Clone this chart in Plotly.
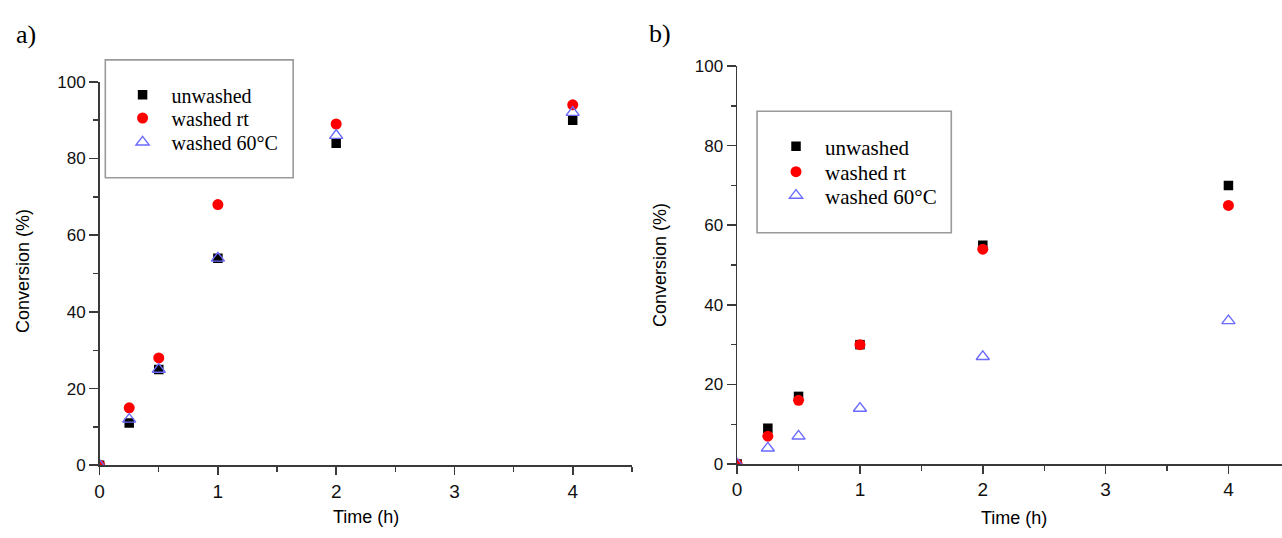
import plotly.graph_objects as go

W, H = 1282, 538

# ---- data ----
time_h = [0, 0.25, 0.5, 1, 2, 4]
series_names = ["unwashed", "washed rt", "washed 60°C"]

a_unwashed = [0, 11, 25, 54, 84, 90]
a_washed_rt = [0, 15, 28, 68, 89, 94]
a_washed_60 = [0, 12, 25, 54, 86, 92]

b_unwashed = [0, 9, 17, 30, 55, 70]
b_washed_rt = [0, 7, 16, 30, 54, 65]
b_washed_60 = [0, 4, 7, 14, 27, 36]

y_ticks = [0, 20, 40, 60, 80, 100]
x_ticks = [0, 1, 2, 3, 4]
panel_labels = ["a)", "b)"]
x_title = "Time (h)"
y_title = "Conversion (%)"

# ---- styles ----
styles = [
    dict(symbol="square", color="black", size=9.5, line=dict(width=0)),
    dict(symbol="circle", color="#ff0000", size=11, line=dict(width=0)),
    dict(symbol="triangle-up-open", color="#6a6aff", size=11.5, line=dict(width=1.4, color="#6a6aff")),
]


def px_x(p):
    return p / W


def px_y(p):
    return 1 - p / H


fig = go.Figure()

panels = [
    dict(data=[a_unwashed, a_washed_rt, a_washed_60], xa="x", ya="y",
         leg_x=109, leg_rows=[89, 113, 138], font_size=20),
    dict(data=[b_unwashed, b_washed_rt, b_washed_60], xa="x2", ya="y2",
         leg_x=765, leg_rows=[142.7, 169, 193.5], font_size=21),
]

legend_layouts = {}
k = 0
for p in panels:
    for name, vals, st, row in zip(series_names, p["data"], styles, p["leg_rows"]):
        k += 1
        key = "legend" if k == 1 else f"legend{k}"
        fig.add_trace(go.Scatter(
            x=time_h, y=vals, mode="markers", name=name,
            marker=st, xaxis=p["xa"], yaxis=p["ya"], legend=key,
            cliponaxis=True, showlegend=True,
        ))
        legend_layouts[key] = dict(
            x=px_x(p["leg_x"]), y=px_y(row), xanchor="left", yanchor="middle",
            bgcolor="rgba(0,0,0,0)", borderwidth=0, itemwidth=48,
            font=dict(family="Liberation Serif", size=p["font_size"], color="black"),
        )

axis_color = "#3a3a3a"
common_x = dict(
    showgrid=False, zeroline=False, showline=True, linecolor=axis_color, linewidth=1.6,
    ticks="outside", ticklen=8, tickwidth=1.6, tickcolor=axis_color,
    tickvals=x_ticks, ticktext=[str(v) for v in x_ticks],
    tickfont=dict(family="Liberation Sans", size=19, color="#111"),
    minor=dict(dtick=0.5, tick0=0, ticks="outside", ticklen=5, tickwidth=1.4, tickcolor=axis_color),
    fixedrange=True,
)
common_y = dict(
    showgrid=False, zeroline=False, showline=True, linecolor=axis_color, linewidth=1.6,
    ticks="outside", ticklen=9, tickwidth=1.6, tickcolor=axis_color,
    tickvals=y_ticks, ticktext=[str(v) for v in y_ticks],
    tickfont=dict(family="Liberation Sans", size=17, color="#111"),
    minor=dict(dtick=10, tick0=0, ticks="outside", ticklen=5, tickwidth=1.4, tickcolor=axis_color),
    range=[0, 100], fixedrange=True,
)

fig.update_layout(
    width=W, height=H,
    margin=dict(l=0, r=0, t=0, b=0),
    paper_bgcolor="white", plot_bgcolor="white",
    xaxis=dict(common_x, domain=[px_x(95), px_x(629.3)], range=[0, 4.5], anchor="y"),
    yaxis=dict(common_y, domain=[px_y(473), px_y(75.5)], anchor="x"),
    xaxis2=dict(common_x, domain=[px_x(735), px_x(1282)], range=[0, 4.436], anchor="y2"),
    yaxis2=dict(common_y, domain=[px_y(471.7), px_y(59.2)], anchor="x2"),
    showlegend=True,
    **legend_layouts,
)

# legend frames
for (x0, y0, x1, y1) in [(100.7, 52.7, 289.3, 175), (755, 106, 950, 232)]:
    fig.add_shape(type="rect", xref="paper", yref="paper",
                  x0=px_x(x0), x1=px_x(x1), y0=px_y(y1), y1=px_y(y0),
                  line=dict(color="#9a9a9a", width=1.6), fillcolor="rgba(0,0,0,0)", layer="above")

# titles and panel labels
ann = []
for lab, (cx, cy) in zip(panel_labels, [(21, 26), (658, 25)]):
    ann.append(dict(text=lab, x=px_x(cx), y=px_y(cy), xref="paper", yref="paper",
                    showarrow=False, xanchor="center", yanchor="middle",
                    font=dict(family="Liberation Serif", size=26, color="black")))
for (cx, cy) in [(362.5, 527), (1013, 528)]:
    ann.append(dict(text=x_title, x=px_x(cx), y=px_y(cy), xref="paper", yref="paper",
                    showarrow=False, xanchor="center", yanchor="middle",
                    font=dict(family="Liberation Sans", size=18, color="black")))
for (cx, cy) in [(18, 271.7), (657, 265)]:
    ann.append(dict(text=y_title, x=px_x(cx), y=px_y(cy), xref="paper", yref="paper",
                    showarrow=False, xanchor="center", yanchor="middle", textangle=-90,
                    font=dict(family="Liberation Sans", size=18, color="black")))
fig.update_layout(annotations=ann)

# remove the default page margin so the figure sits at the window's top-left corner
fig.write_html(
    "out.html",
    config={"displayModeBar": False, "staticPlot": True},
    post_script="document.body.style.margin='0';document.body.style.overflow='hidden';",
)
